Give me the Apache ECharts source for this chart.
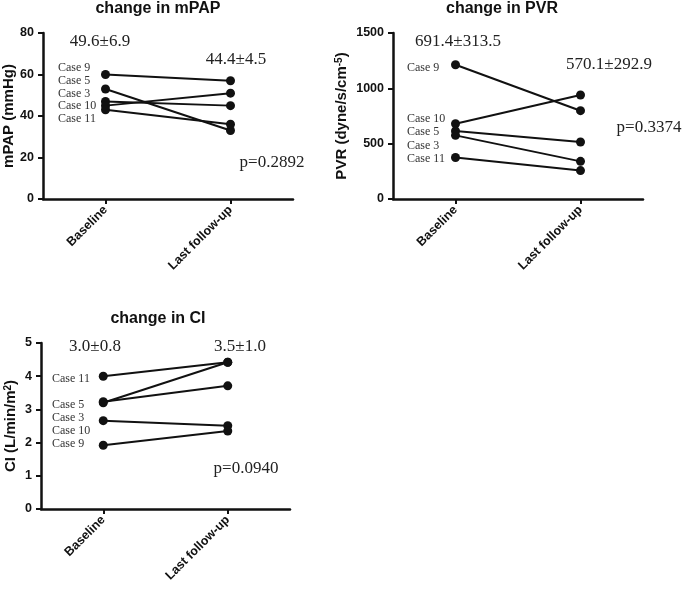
<!DOCTYPE html>
<html><head><meta charset="utf-8">
<script src="https://cdn.jsdelivr.net/npm/echarts@6/dist/echarts.min.js"></script>
<style>html,body{margin:0;padding:0;background:#fff}#c{width:685px;height:589px}</style>
</head><body><div id="c"></div>
<script>
const categories = ['Baseline', 'Last follow-up'];
const mpapBaseline = [60, 53, 47, 45, 43];
const mpapFollow = [57, 33, 45, 51, 36];
const pvrBaseline = [1213, 680, 615, 575, 375];
const pvrFollow = [798, 940, 515, 340, 257];
const ciBaseline = [4.0, 3.2, 3.23, 2.66, 1.92];
const ciFollow = [4.42, 4.42, 3.71, 2.51, 2.35];
const mpapCases = ['Case 9', 'Case 5', 'Case 3', 'Case 10', 'Case 11'];
const pvrCases = ['Case 9', 'Case 10', 'Case 5', 'Case 3', 'Case 11'];
const ciCases = ['Case 11', 'Case 5', 'Case 3', 'Case 10', 'Case 9'];
const titles = ['change in mPAP', 'change in PVR', 'change in CI'];
const meanLabels = [['49.6±6.9', '44.4±4.5'], ['691.4±313.5', '570.1±292.9'], ['3.0±0.8', '3.5±1.0']];
const pValues = ['p=0.2892', 'p=0.3374', 'p=0.0940'];

const chart = echarts.init(document.getElementById('c'));
const SANS = '"Liberation Sans", Arial, sans-serif';
const SERIF = '"Liberation Serif", "Times New Roman", serif';
const grids = [
  {left: 43, top: 33, width: 250, height: 166},
  {left: 393, top: 33, width: 250, height: 166},
  {left: 41, top: 343, width: 249, height: 166}
];
const yConf = [
  {min: 0, max: 80, interval: 20, name: 'mPAP (mmHg)', gap: 23},
  {min: 0, max: 1500, interval: 500, name: '{a|PVR (dyne/s/cm}{s|-5}{a|)}', gap: 35},
  {min: 0, max: 5, interval: 1, name: '{a|CI (L/min/m}{s|2}{a|)}', gap: 22}
];
const axisLine = {show: true, lineStyle: {color: '#111', width: 2.5}};
const xAxis = grids.map((g, i) => ({
  type: 'category', gridIndex: i, data: categories, boundaryGap: true,
  axisLine: axisLine,
  axisTick: {show: true, alignWithLabel: true, length: 5, lineStyle: {color: '#111', width: 2}},
  axisLabel: {rotate: 45, margin: 9, color: '#111', fontFamily: SANS, fontWeight: 'bold', fontSize: 12.5},
  splitLine: {show: false}
}));
const yAxis = yConf.map((c, i) => ({
  type: 'value', gridIndex: i, min: c.min, max: c.max, interval: c.interval,
  name: c.name, nameLocation: 'middle', nameGap: c.gap, nameRotate: 90,
  nameTextStyle: {color: '#111', fontFamily: SANS, fontWeight: 'bold', fontSize: 15,
    rich: {a: {fontFamily: SANS, fontWeight: 'bold', fontSize: 15, color: '#111'},
           s: {fontFamily: SANS, fontWeight: 'bold', fontSize: 10, color: '#111', verticalAlign: 'top', lineHeight: 10, padding: [0,0,8,0]}}},
  axisLine: axisLine,
  axisTick: {show: true, length: 5, lineStyle: {color: '#111', width: 2}},
  axisLabel: {margin: 9, color: '#111', fontFamily: SANS, fontWeight: 'bold', fontSize: 12.5,
    formatter: v => String(v)},
  splitLine: {show: false}
}));
const series = [];
[[mpapBaseline, mpapFollow], [pvrBaseline, pvrFollow], [ciBaseline, ciFollow]].forEach((pair, gi) => {
  pair[0].forEach((b, k) => {
    series.push({
      type: 'line', xAxisIndex: gi, yAxisIndex: gi,
      data: [b, pair[1][k]],
      symbol: 'circle', symbolSize: 9,
      lineStyle: {color: '#111', width: 2},
      itemStyle: {color: '#111'},
      silent: true, animation: false
    });
  });
});
function txt(x, y, text, font, fill, align) {
  return {type: 'text', x: x, y: y, silent: true,
    style: {text: text, font: font, fill: fill || '#111',
      align: align || 'center', verticalAlign: 'middle',
      textAlign: align || 'center', textVerticalAlign: 'middle'}};
}
const gfx = [];
const titlePos = [[158, 9], [502, 9], [158, 319]];
titles.forEach((t, i) => gfx.push(txt(titlePos[i][0], titlePos[i][1], t, 'bold 16px ' + SANS)));
const meanPos = [[[100, 42], [236, 60]], [[458, 42], [609, 65]], [[95, 347], [240, 347]]];
meanLabels.forEach((m, i) => m.forEach((t, j) => gfx.push(txt(meanPos[i][j][0], meanPos[i][j][1], t, '17px ' + SERIF, '#222'))));
const pPos = [[272, 163], [649, 128], [246, 469]];
pValues.forEach((p, i) => gfx.push(txt(pPos[i][0], pPos[i][1], p, '17px ' + SERIF, '#222')));
const caseLeft = [58, 407, 52];
const caseY = [[68, 81, 93.5, 106, 119], [67.5, 119, 132, 145.5, 158.5], [379, 405, 418, 431, 444]];
[mpapCases, pvrCases, ciCases].forEach((cs, i) => cs.forEach((c, k) =>
  gfx.push(txt(caseLeft[i], caseY[i][k], c, '12px ' + SERIF, '#333', 'left'))));

chart.setOption({
  animation: false,
  grid: grids,
  xAxis: xAxis,
  yAxis: yAxis,
  series: series,
  graphic: gfx
});
</script></body></html>
